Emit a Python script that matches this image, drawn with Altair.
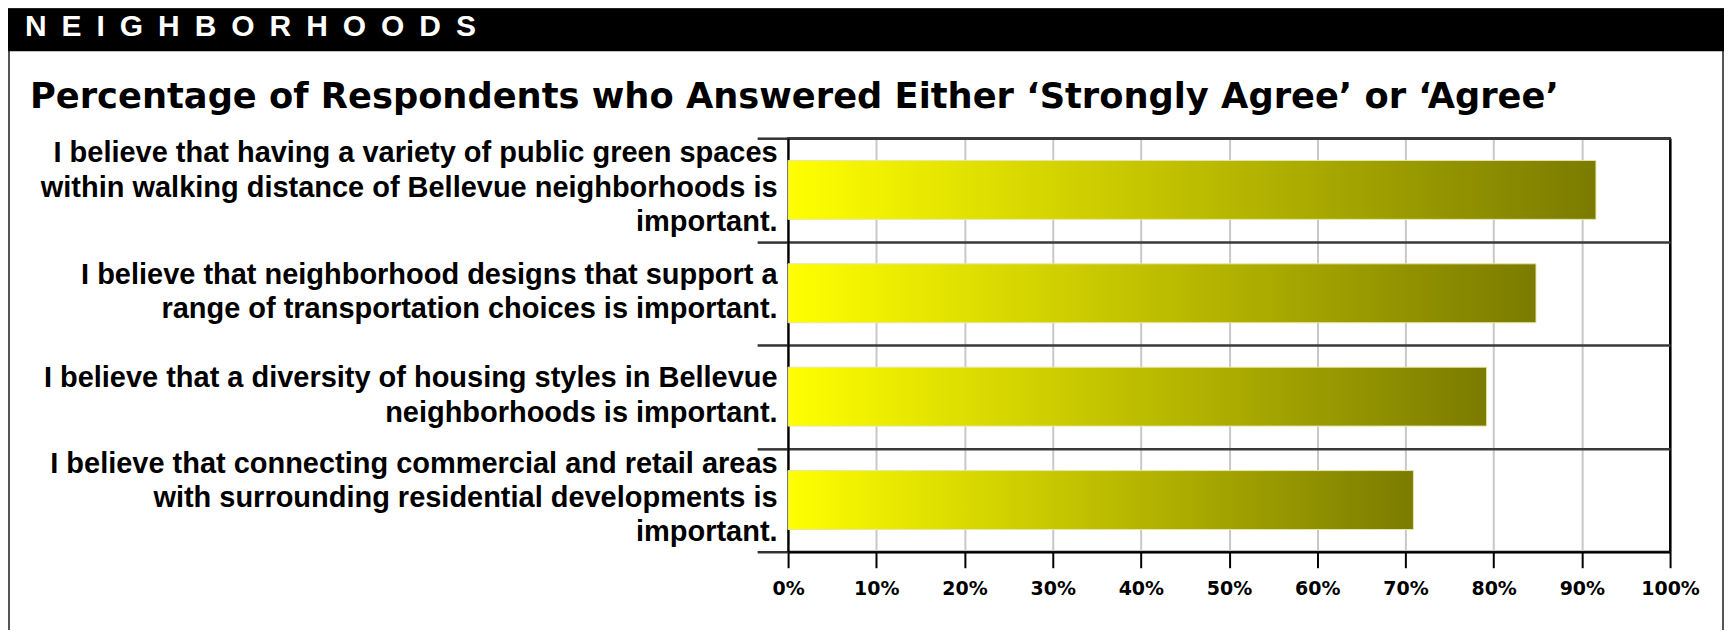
import altair as alt
import pandas as pd

categories = [
    "I believe that having a variety of public green spaces|within walking distance of Bellevue neighborhoods is|important.",
    "I believe that neighborhood designs that support a|range of transportation choices is important.",
    "I believe that a diversity of housing styles in Bellevue|neighborhoods is important.",
    "I believe that connecting commercial and retail areas|with surrounding residential developments is|important.",
]
values = [91.6, 84.8, 79.2, 70.9]
x_ticks = [0, 10, 20, 30, 40, 50, 60, 70, 80, 90, 100]

header_text = "\u2002".join(list("NEIGHBORHOODS"))
title_text = "Percentage of Respondents who Answered Either \u2018Strongly Agree\u2019 or \u2018Agree\u2019"

df = pd.DataFrame({"statement": categories, "pct": values})
deco = pd.DataFrame({"k": [0]})

gradient = alt.LinearGradient(
    gradient="linear",
    stops=[alt.GradientStop(offset=0, color="#ffff00"),
           alt.GradientStop(offset=1, color="#7b7b00")],
    x1=0, x2=1, y1=0, y2=0,
)

bars = alt.Chart(df).mark_bar(
    color=gradient, stroke="#e6e6a8", strokeWidth=1,
    height=alt.RelativeBandSize(band=0.57),
).encode(
    x=alt.X("pct:Q", scale=alt.Scale(domain=[0, 100], nice=False),
            axis=alt.Axis(
                values=x_ticks, title=None,
                labelExpr="datum.value + '%'",
                labelFont="DejaVu Sans", labelFontWeight="bold", labelFontSize=19,
                labelColor="black", labelPadding=12, labelFlush=False, labelOverlap=False,
                tickSize=16, tickColor="black", tickWidth=2,
                domainColor="black", domainWidth=2,
                grid=True, gridWidth=2,
                gridColor=alt.condition("datum.value == 100", alt.value("black"), alt.value("#c8c8c8")),
            )),
    y=alt.Y("statement:N", sort=categories,
            scale=alt.Scale(paddingInner=0, paddingOuter=0),
            axis=alt.Axis(
                title=None, tickBand="extent",
                labelExpr="split(datum.label, '|')",
                labelFont="Liberation Sans", labelFontWeight="bold", labelFontSize=29,
                labelLineHeight=34.5, labelColor="black", labelLimit=900,
                labelPadding=-20, labelAlign="right", labelBaseline="middle",
                labelOffset=alt.condition("length(split(datum.value, '|')) == 3",
                                          alt.value(-37), alt.value(-19)),
                tickSize=31, tickColor="#333333", tickWidth=2.5,
                grid=True, gridColor="#3a3a3a", gridWidth=2.5,
                domainColor="black", domainWidth=2,
            )),
)

frame = alt.Chart(deco).mark_rect(fillOpacity=0, stroke="#555555", strokeWidth=2).encode(
    x=alt.value(-780), x2=alt.value(936), y=alt.value(-129), y2=alt.value(520)
)
header = alt.Chart(deco).mark_rect(color="black").encode(
    x=alt.value(-781), x2=alt.value(937), y=alt.value(-130), y2=alt.value(-87)
)
header_label = alt.Chart(deco).mark_text(
    text=header_text, color="white", align="left", baseline="middle",
    font="Liberation Sans", fontWeight="bold", fontSize=30,
).encode(x=alt.value(-764), y=alt.value(-111))
title = alt.Chart(deco).mark_text(
    text=title_text, color="black", align="left", baseline="alphabetic",
    font="DejaVu Sans", fontWeight="bold", fontSize=35.3,
).encode(x=alt.value(-759), y=alt.value(-30))

chart = alt.layer(frame, header, header_label, title, bars).properties(
    width=883, height=414,
    autosize=alt.AutoSizeParams(type="none"),
    padding={"left": 781, "top": 130, "right": 54, "bottom": 78},
).configure_view(stroke="black", strokeWidth=2)

chart.save("out.html", embed_options={"renderer": "svg", "actions": False})
